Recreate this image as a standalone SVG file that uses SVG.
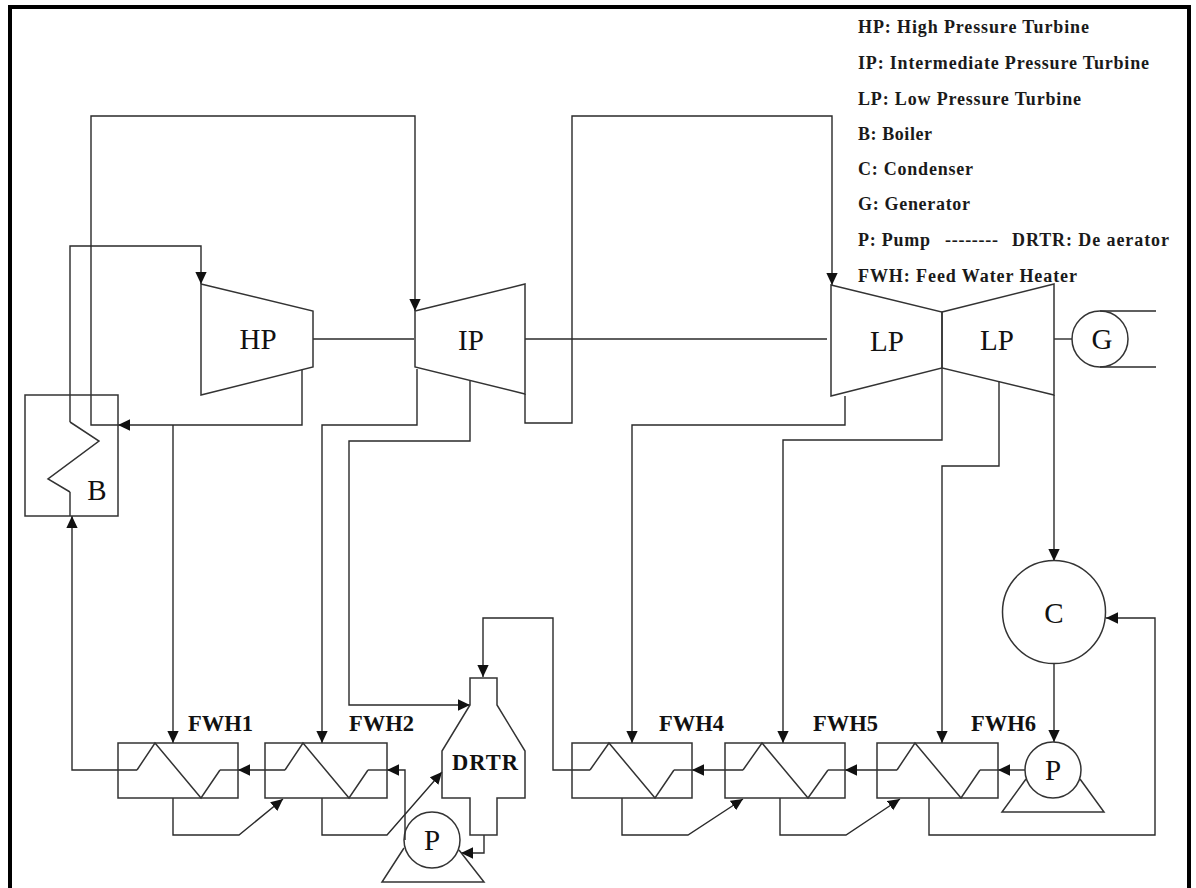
<svg xmlns="http://www.w3.org/2000/svg" width="1196" height="888" viewBox="0 0 1196 888">
<style>
.s{fill:none;stroke:#2a2a2a;stroke-width:1.4;stroke-linejoin:miter}
.k{fill:none;stroke:#333;stroke-width:1.5}
.a{marker-end:url(#arrow)}
.lb{font-family:"Liberation Serif","Times New Roman",serif;font-size:29px;fill:#111;text-anchor:middle}
.fw{font-family:"Liberation Serif","Times New Roman",serif;font-size:22.5px;font-weight:bold;fill:#111}
.lg{font-family:"Liberation Serif","Times New Roman",serif;font-size:18px;font-weight:bold;fill:#1a1a1a}
</style>
<defs>
<marker id="arrow" markerUnits="userSpaceOnUse" markerWidth="12" markerHeight="12" refX="10" refY="5" orient="auto" viewBox="0 0 10 10">
<path d="M0,0.3 L10,5 L0,9.7 Z" fill="#111"/>
</marker>
</defs>
<rect x="0" y="0" width="1196" height="888" fill="#fff"/>
<path d="M10,888 V7 H1189 V888" fill="none" stroke="#000" stroke-width="4"/>

<g id="connectors">
<polyline class="s a" points="70,422 70,246 201,246 201,284"/>
<polyline class="s a" points="302,370 302,425 118,425"/>
<polyline class="s a" points="118,425 91,425 91,116 415,116 415,311"/>
<polyline class="s a" points="173,425 173,743"/>
<polyline class="s" points="70,492 70,516"/>
<line class="s" x1="313" y1="339" x2="414" y2="339"/>
<line class="s" x1="525" y1="339" x2="827" y2="339"/>
<polyline class="s a" points="525,394 525,423 572,423 572,116 832,116 832,285"/>
<line class="s" x1="1054" y1="339" x2="1072" y2="339"/>
<line class="s" x1="1100" y1="311" x2="1156" y2="311"/>
<line class="s" x1="1100" y1="367" x2="1156" y2="367"/>
<polyline class="s a" points="417,369 417,425 322,425 322,743"/>
<polyline class="s a" points="470,381 470,441 349,441 349,705 470,705"/>
<polyline class="s a" points="845,396 845,425 632,425 632,743"/>
<polyline class="s a" points="942,368 942,440 783,440 783,743"/>
<polyline class="s a" points="999,381 999,466 942,466 942,743"/>
<polyline class="s a" points="1054,395 1054,561"/>
<polyline class="s a" points="1054,664 1054,742"/>
<polyline class="s a" points="137,770 72,770 72,516"/>
<polyline class="s a" points="285,770 238,770"/>
<polyline class="s a" points="405,840 405,770 387,770"/>
<polyline class="s a" points="173,798 173,835 239,835 283,799"/>
<polyline class="s a" points="322,798 322,835 387,835 442,772"/>
<polyline class="s a" points="484,835 484,853 461,853"/>
<polyline class="s a" points="590,770 553,770 553,618 483,618 483,677"/>
<polyline class="s a" points="743,770 692,770"/>
<polyline class="s a" points="897,770 845,770"/>
<polyline class="s a" points="1025,770 998,770"/>
<polyline class="s a" points="622,798 622,835 688,835 743,799"/>
<polyline class="s a" points="780,798 780,835 846,835 900,799"/>
<polyline class="s a" points="929,798 929,835 1155,835 1155,618 1106,618"/>
<polyline class="s" points="220,770 238,770"/>
<polyline class="s" points="368,770 387,770"/>
<polyline class="s" points="674,770 692,770"/>
<polyline class="s" points="828,770 845,770"/>
<polyline class="s" points="980,770 998,770"/>
</g>

<g id="HP"><polygon class="k" points="201,284 313,311 313,367 201,395"/><text class="lb" x="258" y="349">HP</text></g>
<g id="IP"><polygon class="k" points="415,311 525,284 525,394 415,367"/><text class="lb" x="471" y="350">IP</text></g>
<g id="LP1"><polygon class="k" points="831,285 942,312 942,368 831,396"/><text class="lb" x="887" y="351">LP</text></g>
<g id="LP2"><polygon class="k" points="942,312 1054,284 1054,395 942,368"/><text class="lb" x="997" y="350">LP</text></g>
<g id="G"><circle class="k" cx="1100" cy="339" r="28"/><text class="lb" x="1102" y="349">G</text></g>
<g id="B"><rect class="k" x="25" y="395" width="93" height="121"/><polyline class="k" points="70,422 99,441 48,479 70,492"/><text class="lb" x="97" y="500">B</text></g>
<g id="C"><circle class="k" cx="1054" cy="612" r="51.5"/><text class="lb" x="1054" y="623">C</text></g>

<g id="FWH1"><rect class="k" x="118" y="743" width="120" height="55"/><polyline class="k" points="137,770 155,743 201,798 220,770"/><text class="fw" x="188" y="731">FWH1</text></g>
<g id="FWH2"><rect class="k" x="265" y="743" width="122" height="55"/><polyline class="k" points="285,770 303,743 349,798 368,770"/><text class="fw" x="349" y="731">FWH2</text></g>
<g id="FWH4"><rect class="k" x="572" y="743" width="120" height="55"/><polyline class="k" points="590,770 609,743 655,798 674,770"/><text class="fw" x="659" y="731">FWH4</text></g>
<g id="FWH5"><rect class="k" x="725" y="743" width="120" height="55"/><polyline class="k" points="743,770 762,743 808,798 828,770"/><text class="fw" x="813" y="731">FWH5</text></g>
<g id="FWH6"><rect class="k" x="877" y="743" width="121" height="55"/><polyline class="k" points="897,770 915,743 961,798 980,770"/><text class="fw" x="971" y="731">FWH6</text></g>

<g id="DRTR"><polygon class="k" points="470,678 497,678 497,705 525,751 525,798 497,798 497,835 470,835 470,798 442,798 442,751 470,705"/><text class="fw" x="452" y="770" textLength="66">DRTR</text></g>
<g id="P1"><circle class="k" cx="432" cy="840" r="28"/><polyline class="k" points="404,848 382,882 484,882 459,850"/><text class="lb" x="432" y="850">P</text></g>
<g id="P2"><circle class="k" cx="1053" cy="770" r="28"/><polyline class="k" points="1026,779 1002,812 1104,812 1080,779"/><text class="lb" x="1053" y="780">P</text></g>

<g id="legend">
<text class="lg" x="858" y="33" textLength="231">HP: High Pressure Turbine</text>
<text class="lg" x="858" y="69" textLength="291">IP: Intermediate Pressure Turbine</text>
<text class="lg" x="858" y="105" textLength="223">LP: Low Pressure Turbine</text>
<text class="lg" x="858" y="140" textLength="74">B: Boiler</text>
<text class="lg" x="858" y="175" textLength="115">C: Condenser</text>
<text class="lg" x="858" y="210" textLength="112">G: Generator</text>
<text class="lg" x="858" y="246" textLength="72">P: Pump</text>
<text class="lg" x="945" y="246" textLength="53">--------</text>
<text class="lg" x="1012" y="246" textLength="157">DRTR: De aerator</text>
<text class="lg" x="858" y="282" textLength="219">FWH: Feed Water Heater</text>
</g>
</svg>
